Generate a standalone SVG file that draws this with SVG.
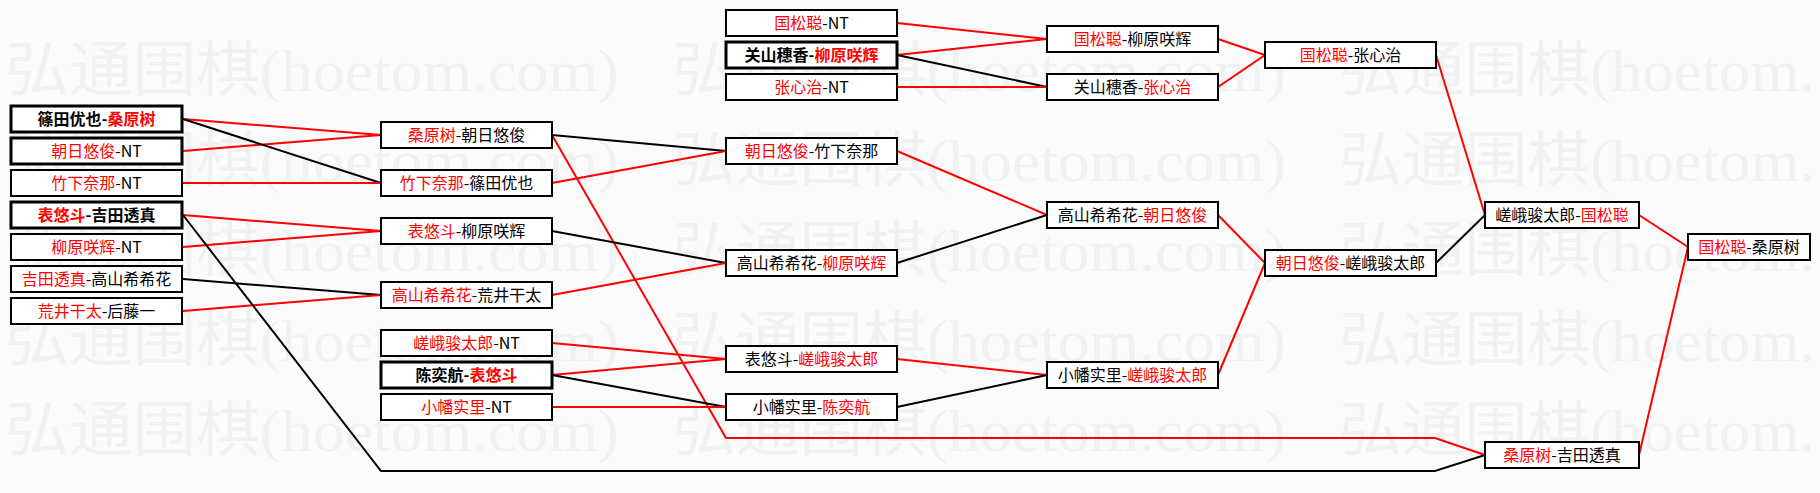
<svg xmlns="http://www.w3.org/2000/svg" width="1820" height="493" viewBox="0 0 1820 493">
<style>
.bg{fill:#fbfbfb}
.wm{font-family:"Liberation Serif","Noto Sans CJK SC",serif;font-size:60px;fill:#f1f1f1}
.box{fill:#ffffff;stroke:#000;stroke-width:2}
.thick{stroke-width:3}
.t{font-family:"Noto Sans CJK SC","Noto Sans CJK JP",sans-serif;font-size:16px;fill:#000;text-anchor:middle}
.b{font-weight:bold}
.r{fill:#f00}
.lr{fill:none;stroke:#f00;stroke-width:2}
.lb{fill:none;stroke:#000;stroke-width:2}
</style>
<rect class="bg" x="0" y="0" width="1820" height="493"/>
<g id="watermark">
<text class="wm" x="5" y="91" textLength="614" lengthAdjust="spacingAndGlyphs">弘通围棋(hoetom.com)</text>
<text class="wm" x="672" y="91" textLength="614" lengthAdjust="spacingAndGlyphs">弘通围棋(hoetom.com)</text>
<text class="wm" x="1339" y="91" textLength="476" lengthAdjust="spacingAndGlyphs">弘通围棋(hoetom.</text>
<text class="wm" x="5" y="181" textLength="614" lengthAdjust="spacingAndGlyphs">弘通围棋(hoetom.com)</text>
<text class="wm" x="672" y="181" textLength="614" lengthAdjust="spacingAndGlyphs">弘通围棋(hoetom.com)</text>
<text class="wm" x="1339" y="181" textLength="476" lengthAdjust="spacingAndGlyphs">弘通围棋(hoetom.</text>
<text class="wm" x="5" y="271" textLength="614" lengthAdjust="spacingAndGlyphs">弘通围棋(hoetom.com)</text>
<text class="wm" x="672" y="271" textLength="614" lengthAdjust="spacingAndGlyphs">弘通围棋(hoetom.com)</text>
<text class="wm" x="1339" y="271" textLength="476" lengthAdjust="spacingAndGlyphs">弘通围棋(hoetom.</text>
<text class="wm" x="5" y="361" textLength="614" lengthAdjust="spacingAndGlyphs">弘通围棋(hoetom.com)</text>
<text class="wm" x="672" y="361" textLength="614" lengthAdjust="spacingAndGlyphs">弘通围棋(hoetom.com)</text>
<text class="wm" x="1339" y="361" textLength="476" lengthAdjust="spacingAndGlyphs">弘通围棋(hoetom.</text>
<text class="wm" x="5" y="451" textLength="614" lengthAdjust="spacingAndGlyphs">弘通围棋(hoetom.com)</text>
<text class="wm" x="672" y="451" textLength="614" lengthAdjust="spacingAndGlyphs">弘通围棋(hoetom.com)</text>
<text class="wm" x="1339" y="451" textLength="476" lengthAdjust="spacingAndGlyphs">弘通围棋(hoetom.</text>
</g>
<g id="connectors">
<line class="lr" x1="183" y1="119" x2="381" y2="135"/>
<line class="lr" x1="183" y1="151" x2="381" y2="135"/>
<line class="lb" x1="183" y1="119" x2="381" y2="183"/>
<line class="lr" x1="183" y1="183" x2="381" y2="183"/>
<line class="lr" x1="183" y1="215" x2="381" y2="231"/>
<line class="lr" x1="183" y1="247" x2="381" y2="231"/>
<line class="lb" x1="183" y1="279" x2="381" y2="295"/>
<line class="lr" x1="183" y1="311" x2="381" y2="295"/>
<polyline class="lb" points="183,215 381,471 1435,471 1485,455"/>
<polyline class="lr" points="552,135 726,438 1435,438 1485,455"/>
<line class="lb" x1="552" y1="135" x2="726" y2="151"/>
<line class="lr" x1="552" y1="183" x2="726" y2="151"/>
<line class="lb" x1="552" y1="231" x2="726" y2="263"/>
<line class="lr" x1="552" y1="295" x2="726" y2="263"/>
<line class="lr" x1="552" y1="343" x2="726" y2="359"/>
<line class="lr" x1="552" y1="375" x2="726" y2="359"/>
<line class="lb" x1="552" y1="375" x2="726" y2="407"/>
<line class="lr" x1="552" y1="407" x2="726" y2="407"/>
<line class="lr" x1="897" y1="23" x2="1047" y2="39"/>
<line class="lr" x1="897" y1="55" x2="1047" y2="39"/>
<line class="lb" x1="897" y1="55" x2="1047" y2="87"/>
<line class="lr" x1="897" y1="87" x2="1047" y2="87"/>
<line class="lr" x1="897" y1="151" x2="1047" y2="215"/>
<line class="lb" x1="897" y1="263" x2="1047" y2="215"/>
<line class="lr" x1="897" y1="359" x2="1047" y2="375"/>
<line class="lb" x1="897" y1="407" x2="1047" y2="375"/>
<line class="lr" x1="1218" y1="39" x2="1265" y2="55"/>
<line class="lr" x1="1218" y1="87" x2="1265" y2="55"/>
<line class="lr" x1="1218" y1="215" x2="1265" y2="263"/>
<line class="lr" x1="1218" y1="375" x2="1265" y2="263"/>
<line class="lr" x1="1436" y1="55" x2="1485" y2="215"/>
<line class="lb" x1="1436" y1="263" x2="1485" y2="215"/>
<line class="lr" x1="1639" y1="215" x2="1688" y2="247"/>
<line class="lr" x1="1639" y1="455" x2="1688" y2="247"/>
</g>
<g id="n1-1"><rect class="box thick" x="11" y="106" width="171" height="26"/><text class="t b" x="96.5" y="125">篠田优也-<tspan class="r">桑原树</tspan></text></g>
<g id="n1-2"><rect class="box thick" x="11" y="138" width="171" height="26"/><text class="t" x="96.5" y="157"><tspan class="r">朝日悠俊</tspan>-NT</text></g>
<g id="n1-3"><rect class="box" x="11" y="170" width="171" height="26"/><text class="t" x="96.5" y="189"><tspan class="r">竹下奈那</tspan>-NT</text></g>
<g id="n1-4"><rect class="box thick" x="11" y="202" width="171" height="26"/><text class="t b" x="96.5" y="221"><tspan class="r">表悠斗</tspan>-吉田透真</text></g>
<g id="n1-5"><rect class="box" x="11" y="234" width="171" height="26"/><text class="t" x="96.5" y="253"><tspan class="r">柳原咲辉</tspan>-NT</text></g>
<g id="n1-6"><rect class="box" x="11" y="266" width="171" height="26"/><text class="t" x="96.5" y="285"><tspan class="r">吉田透真</tspan>-高山希希花</text></g>
<g id="n1-7"><rect class="box" x="11" y="298" width="171" height="26"/><text class="t" x="96.5" y="317"><tspan class="r">荒井干太</tspan>-后藤一</text></g>
<g id="n2-1"><rect class="box" x="381" y="122" width="171" height="26"/><text class="t" x="466.5" y="141"><tspan class="r">桑原树</tspan>-朝日悠俊</text></g>
<g id="n2-2"><rect class="box" x="381" y="170" width="171" height="26"/><text class="t" x="466.5" y="189"><tspan class="r">竹下奈那</tspan>-篠田优也</text></g>
<g id="n2-3"><rect class="box" x="381" y="218" width="171" height="26"/><text class="t" x="466.5" y="237"><tspan class="r">表悠斗</tspan>-柳原咲辉</text></g>
<g id="n2-4"><rect class="box" x="381" y="282" width="171" height="26"/><text class="t" x="466.5" y="301"><tspan class="r">高山希希花</tspan>-荒井干太</text></g>
<g id="n2-5"><rect class="box" x="381" y="330" width="171" height="26"/><text class="t" x="466.5" y="349"><tspan class="r">嵯峨骏太郎</tspan>-NT</text></g>
<g id="n2-6"><rect class="box thick" x="381" y="362" width="171" height="26"/><text class="t b" x="466.5" y="381">陈奕航-<tspan class="r">表悠斗</tspan></text></g>
<g id="n2-7"><rect class="box" x="381" y="394" width="171" height="26"/><text class="t" x="466.5" y="413"><tspan class="r">小幡实里</tspan>-NT</text></g>
<g id="n3-1"><rect class="box" x="726" y="10" width="171" height="26"/><text class="t" x="811.5" y="29"><tspan class="r">国松聪</tspan>-NT</text></g>
<g id="n3-2"><rect class="box thick" x="726" y="42" width="171" height="26"/><text class="t b" x="811.5" y="61">关山穗香-<tspan class="r">柳原咲辉</tspan></text></g>
<g id="n3-3"><rect class="box" x="726" y="74" width="171" height="26"/><text class="t" x="811.5" y="93"><tspan class="r">张心治</tspan>-NT</text></g>
<g id="n3-4"><rect class="box" x="726" y="138" width="171" height="26"/><text class="t" x="811.5" y="157"><tspan class="r">朝日悠俊</tspan>-竹下奈那</text></g>
<g id="n3-5"><rect class="box" x="726" y="250" width="171" height="26"/><text class="t" x="811.5" y="269">高山希希花-<tspan class="r">柳原咲辉</tspan></text></g>
<g id="n3-6"><rect class="box" x="726" y="346" width="171" height="26"/><text class="t" x="811.5" y="365">表悠斗-<tspan class="r">嵯峨骏太郎</tspan></text></g>
<g id="n3-7"><rect class="box" x="726" y="394" width="171" height="26"/><text class="t" x="811.5" y="413">小幡实里-<tspan class="r">陈奕航</tspan></text></g>
<g id="n4-1"><rect class="box" x="1047" y="26" width="171" height="26"/><text class="t" x="1132.5" y="45"><tspan class="r">国松聪</tspan>-柳原咲辉</text></g>
<g id="n4-2"><rect class="box" x="1047" y="74" width="171" height="26"/><text class="t" x="1132.5" y="93">关山穗香-<tspan class="r">张心治</tspan></text></g>
<g id="n4-3"><rect class="box" x="1047" y="202" width="171" height="26"/><text class="t" x="1132.5" y="221">高山希希花-<tspan class="r">朝日悠俊</tspan></text></g>
<g id="n4-4"><rect class="box" x="1047" y="362" width="171" height="26"/><text class="t" x="1132.5" y="381">小幡实里-<tspan class="r">嵯峨骏太郎</tspan></text></g>
<g id="n5-1"><rect class="box" x="1265" y="42" width="171" height="26"/><text class="t" x="1350.5" y="61"><tspan class="r">国松聪</tspan>-张心治</text></g>
<g id="n5-2"><rect class="box" x="1265" y="250" width="171" height="26"/><text class="t" x="1350.5" y="269"><tspan class="r">朝日悠俊</tspan>-嵯峨骏太郎</text></g>
<g id="n6-1"><rect class="box" x="1485" y="202" width="154" height="26"/><text class="t" x="1562" y="221">嵯峨骏太郎-<tspan class="r">国松聪</tspan></text></g>
<g id="n6-2"><rect class="box" x="1485" y="442" width="154" height="26"/><text class="t" x="1562" y="461"><tspan class="r">桑原树</tspan>-吉田透真</text></g>
<g id="n7-1"><rect class="box" x="1688" y="234" width="122" height="26"/><text class="t" x="1749" y="253"><tspan class="r">国松聪</tspan>-桑原树</text></g>
</svg>
